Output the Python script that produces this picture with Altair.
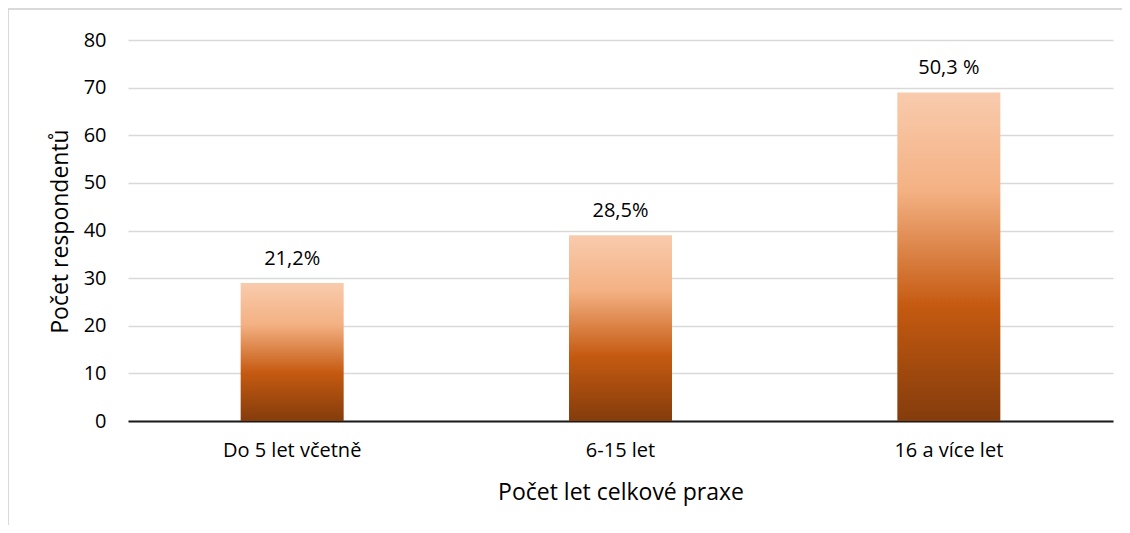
import altair as alt
import pandas as pd

categories = ["Do 5 let včetně", "6-15 let", "16 a více let"]
counts = [29, 39, 69]
labels = ["21,2%", "28,5%", "50,3 %"]

df = pd.DataFrame({"kat": categories, "pocet": counts, "lab": labels})

FONT = "Open Sans"
W, H = 985, 381
LS = 20
TS = 23

grad = alt.Gradient(
    gradient="linear", x1=0, y1=0, x2=0, y2=1,
    stops=[
        alt.GradientStop(color="#F8CBAD", offset=0),
        alt.GradientStop(color="#F4B183", offset=0.3),
        alt.GradientStop(color="#C55A11", offset=0.65),
        alt.GradientStop(color="#843C0C", offset=1),
    ],
)

x_enc = alt.X(
    "kat:N", sort=categories,
    scale=alt.Scale(paddingInner=0, paddingOuter=0),
    axis=alt.Axis(
        title="Počet let celkové praxe", labelAngle=0, ticks=False,
        labelPadding=19, labelFontSize=LS, labelColor="#000000", labelFont=FONT,
        titleFontSize=TS, titleFont=FONT, titleFontWeight="normal", titleColor="#000000",
        titleY=71, titleBaseline="middle",
        domainColor="#1a1a1a", domainWidth=2, grid=False,
    ),
)

bars = alt.Chart(df).mark_bar(color=grad, size=103).encode(
    x=x_enc,
    y=alt.Y(
        "pocet:Q", scale=alt.Scale(domain=[0, 80]),
        axis=alt.Axis(
            title="Počet respondentů", values=[0, 10, 20, 30, 40, 50, 60, 70, 80],
            ticks=False, domain=False, labelPadding=22, labelFontSize=LS,
            labelColor="#000000", labelFont=FONT,
            gridColor="#D9D9D9", gridWidth=1.5,
            titleFontSize=TS, titleFont=FONT, titleFontWeight="normal", titleColor="#000000",
            titleAngle=-90, titleX=-68, titleY=191, titleAlign="center", titleBaseline="middle",
        ),
    ),
)

text = alt.Chart(df).mark_text(
    dy=-24, baseline="middle", fontSize=LS, font=FONT, color="#000000"
).encode(x=alt.X("kat:N", sort=categories), y="pocet:Q", text="lab:N")

frame = alt.Chart(df).mark_rect(
    fill=None, stroke="#D9D9D9", strokeWidth=1.5
).encode(
    x=alt.value(-120), x2=alt.value(1200), y=alt.value(-31), y2=alt.value(700)
)

chart = (
    alt.layer(frame, bars, text)
    .properties(
        width=W, height=H,
        autosize=alt.AutoSizeParams(type="none"),
        padding={"left": 120, "top": 32, "right": 9, "bottom": 104},
        background="white",
    )
    .configure_view(stroke=None)
)

chart.save("out.html", embed_options={"renderer": "svg", "actions": False})
